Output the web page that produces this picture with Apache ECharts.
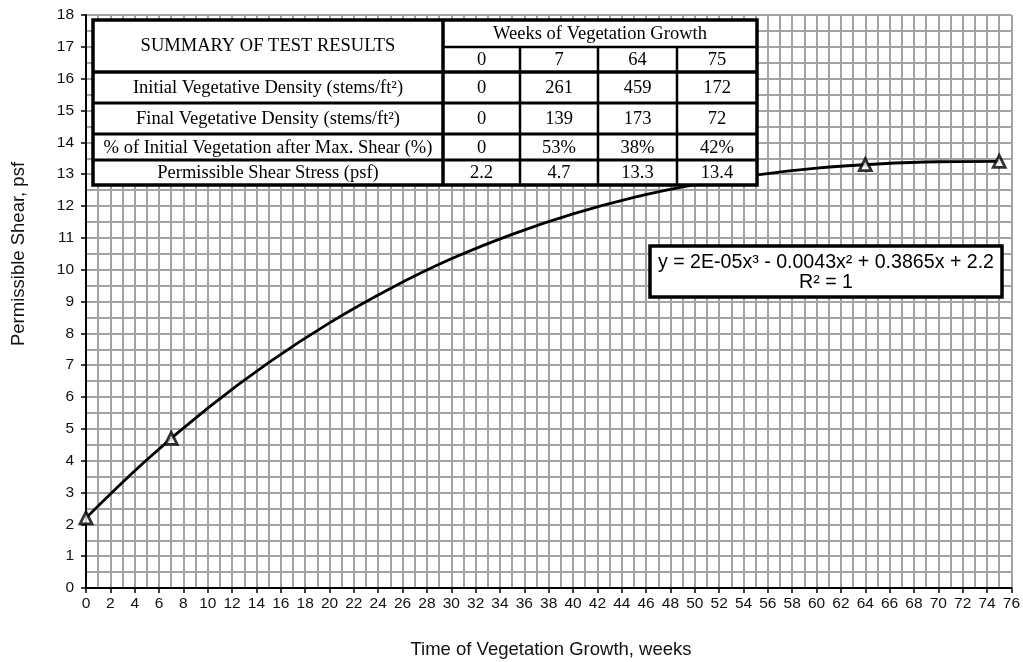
<!DOCTYPE html>
<html>
<head>
<meta charset="utf-8">
<script src="https://cdn.jsdelivr.net/npm/echarts@6/dist/echarts.min.js"></script>
<style>
  html, body { margin: 0; padding: 0; background: #fff; }
  #chart { width: 1023px; height: 662px; }
</style>
</head>
<body>
<div id="chart"></div>
<script>
// Measured test points: permissible shear stress by weeks of growth
const weeks = [0, 7, 64, 75];
const shearStress = [2.2, 4.7, 13.3, 13.4];

// Summary table rows
const initialDensity = ['0', '261', '459', '172'];
const finalDensity = ['0', '139', '173', '72'];
const pctRemaining = ['0', '53%', '38%', '42%'];
const shearText = ['2.2', '4.7', '13.3', '13.4'];
const rowLabels = [
  'Initial Vegetative Density (stems/ft²)',
  'Final Vegetative Density (stems/ft²)',
  '% of Initial Vegetation after Max. Shear (%)',
  'Permissible Shear Stress (psf)'
];

// Polynomial trendline, sampled along the growth period
const trendX = [0, 5, 10, 15, 20, 25, 30, 35, 40, 45, 50, 55, 60, 65, 70, 75];
const trendY = [2.2, 4.03, 5.65, 7.08, 8.33, 9.41, 10.34, 11.11, 11.75, 12.27, 12.67, 12.97, 13.19, 13.32, 13.39, 13.4];

const trendLabel = ['y = 2E-05x³ - 0.0043x² + 0.3865x + 2.2', 'R² = 1'];
const xTitle = 'Time of Vegetation Growth, weeks';
const yTitle = 'Permissible Shear, psf';

const chart = echarts.init(document.getElementById('chart'), null, { renderer: 'canvas' });

const gridColor = '#a3a3a3';
const serif = '"Liberation Serif", "Times New Roman", serif';
const sans = '"Liberation Sans", Arial, sans-serif';

// Summary table layout
const colX = [93, 443, 520, 598, 677, 757];
const rowY = [20, 47, 72, 103, 134, 160, 185];

function buildTable() {
  const els = [];
  const fs = 18.5;
  els.push({
    type: 'rect',
    shape: { x: colX[0], y: rowY[0], width: colX[5] - colX[0], height: rowY[6] - rowY[0] },
    style: { fill: '#fff', stroke: '#000', lineWidth: 3.5 },
    z: 10
  });
  const hLine = (x1, x2, y, w) => els.push({
    type: 'line', shape: { x1: x1, y1: y, x2: x2, y2: y },
    style: { stroke: '#000', lineWidth: w }, z: 11
  });
  const vLine = (x, y1, y2, w) => els.push({
    type: 'line', shape: { x1: x, y1: y1, x2: x, y2: y2 },
    style: { stroke: '#000', lineWidth: w }, z: 11
  });
  hLine(colX[1], colX[5], rowY[1], 2.5);
  hLine(colX[0], colX[5], rowY[2], 3.5);
  for (let r = 3; r < 6; r++) hLine(colX[0], colX[5], rowY[r], 3);
  vLine(colX[1], rowY[0], rowY[6], 3.5);
  for (let c = 2; c < 5; c++) vLine(colX[c], rowY[1], rowY[6], 2.5);

  const txt = (s, cx, cy) => els.push({
    type: 'text', x: cx, y: cy, z: 12,
    style: { text: s, font: fs + 'px ' + serif, fill: '#000', align: 'center', verticalAlign: 'middle' }
  });
  txt('SUMMARY OF TEST RESULTS', (colX[0] + colX[1]) / 2, (rowY[0] + rowY[2]) / 2);
  txt('Weeks of Vegetation Growth', (colX[1] + colX[5]) / 2, (rowY[0] + rowY[1]) / 2 + 1);
  const rows = [weeks.map(String), initialDensity, finalDensity, pctRemaining, shearText];
  rows.forEach((vals, r) => {
    const cy = (rowY[r + 1] + rowY[r + 2]) / 2 + 1;
    vals.forEach((v, c) => txt(v, (colX[c + 1] + colX[c + 2]) / 2, cy));
    if (r > 0) txt(rowLabels[r - 1], (colX[0] + colX[1]) / 2, cy);
  });
  return els;
}

function buildEquationBox() {
  return [
    {
      type: 'rect', shape: { x: 650, y: 246, width: 352, height: 51 },
      style: { fill: '#fff', stroke: '#000', lineWidth: 3.5 }, z: 10
    },
    {
      type: 'text', x: 826, y: 263, z: 12,
      style: { text: trendLabel[0], font: '19.6px ' + sans, fill: '#000', align: 'center', verticalAlign: 'middle' }
    },
    {
      type: 'text', x: 826, y: 283, z: 12,
      style: { text: trendLabel[1], font: '19.6px ' + sans, fill: '#000', align: 'center', verticalAlign: 'middle' }
    }
  ];
}

function buildTitles() {
  return [
    {
      type: 'text', x: 551, y: 650, z: 12,
      style: { text: xTitle, font: '18.5px ' + sans, fill: '#111', align: 'center', verticalAlign: 'middle' }
    },
    {
      type: 'text', x: 19, y: 254, rotation: Math.PI / 2, z: 12,
      style: { text: yTitle, font: '18.5px ' + sans, fill: '#111', align: 'center', verticalAlign: 'middle' }
    }
  ];
}

const option = {
  backgroundColor: '#fff',
  animation: false,
  textStyle: { fontFamily: sans },
  grid: { left: 86, right: 11, top: 15, bottom: 74, containLabel: false },
  xAxis: {
    type: 'value', min: 0, max: 76, interval: 2,
    axisLine: { show: true, onZero: false, lineStyle: { color: '#000', width: 2 } },
    axisTick: { show: true, inside: false, length: 5, lineStyle: { color: '#000', width: 1.5 } },
    axisLabel: { fontSize: 15.5, color: '#111', margin: 8, fontFamily: sans },
    splitLine: { show: true, lineStyle: { color: gridColor, width: 2 } },
    minorTick: { show: false, splitNumber: 2 },
    minorSplitLine: { show: true, lineStyle: { color: gridColor, width: 2 } }
  },
  yAxis: {
    type: 'value', min: 0, max: 18, interval: 1,
    axisLine: { show: true, onZero: false, lineStyle: { color: '#000', width: 2 } },
    axisTick: { show: true, inside: false, length: 5, lineStyle: { color: '#000', width: 1.5 } },
    axisLabel: { fontSize: 15.5, color: '#111', margin: 12, fontFamily: sans },
    splitLine: { show: true, lineStyle: { color: gridColor, width: 2 } },
    minorTick: { show: false, splitNumber: 2 },
    minorSplitLine: { show: true, lineStyle: { color: gridColor, width: 2 } }
  },
  series: [
    {
      name: 'Trendline',
      type: 'line',
      data: trendX.map((x, i) => [x, trendY[i]]),
      smooth: 0.4,
      showSymbol: false,
      lineStyle: { color: '#000', width: 2.8 },
      z: 3
    },
    {
      name: 'Permissible Shear',
      type: 'scatter',
      data: weeks.map((w, i) => [w, shearStress[i]]),
      symbol: 'triangle',
      symbolSize: 12,
      itemStyle: { color: '#fff', borderColor: '#000', borderWidth: 2.8 },
      z: 4
    }
  ],
  graphic: buildTable().concat(buildEquationBox(), buildTitles())
};

chart.setOption(option);
</script>
</body>
</html>
